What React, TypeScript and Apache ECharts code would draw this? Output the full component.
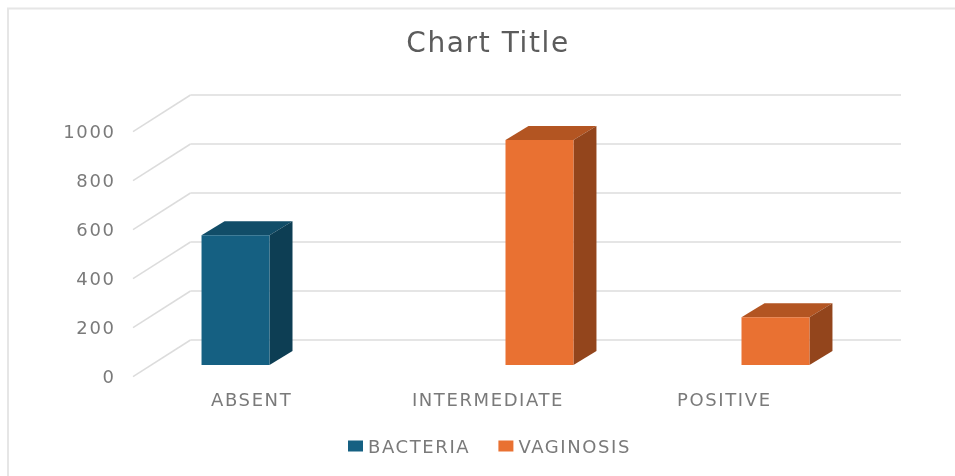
import React, { useEffect, useRef } from "react";
import * as echarts from "echarts";

const categories = ["ABSENT", "INTERMEDIATE", "POSITIVE"];
const bacteriaValues: (number | null)[] = [530, null, null];
const vaginosisValues: (number | null)[] = [null, 918, 195];
const ticks = [0, 200, 400, 600, 800, 1000];

const FONT = "'DejaVu Sans', sans-serif";
const AXIS_TEXT = "#7a7a7a";
const GRID_LINE = "#dcdcdc";

const yBase = { type: "value", min: 0, max: 1000, interval: 200 };

function barRenderer(side: number, front: string, top: string, right: string) {
  return (params: any, api: any) => {
    const v = api.value(1);
    if (v == null || isNaN(v)) return;
    const [cx, yt] = api.coord([api.value(0), v]);
    const [, yb] = api.coord([api.value(0), 0]);
    const w = api.size([1, 0])[0] * 0.288;
    const l = side < 0 ? cx - w : cx;
    const r = l + w;
    const dx = 23;
    const dy = 14;
    return {
      type: "group",
      children: [
        { type: "polygon", shape: { points: [[l, yt], [l + dx, yt - dy], [r + dx, yt - dy], [r, yt]] }, style: { fill: top } },
        { type: "polygon", shape: { points: [[r, yt], [r + dx, yt - dy], [r + dx, yb - dy], [r, yb]] }, style: { fill: right } },
        { type: "rect", shape: { x: l, y: yt, width: w, height: yb - yt }, style: { fill: front } },
      ],
    };
  };
}

function barSeries(name: string, values: (number | null)[], side: number, front: string, top: string, right: string) {
  return {
    name,
    type: "custom",
    xAxisIndex: 2,
    yAxisIndex: 2,
    z: 5,
    clip: false,
    itemStyle: { color: front },
    encode: { x: 0, y: 1 },
    data: values.map((v, i) => [i, v == null ? NaN : v]),
    renderItem: barRenderer(side, front, top, right),
  };
}

export default function App() {
  const ref = useRef<HTMLDivElement>(null);
  useEffect(() => {
    const chart = echarts.init(ref.current!, null, { renderer: "svg" });
    chart.setOption({
      animation: false,
      backgroundColor: "#ffffff",
      graphic: [
        {
          type: "rect",
          silent: true,
          z: 0,
          shape: { x: 8, y: 8.5, width: 1100, height: 600 },
          style: { fill: "none", stroke: "#e6e6e6", lineWidth: 2 },
        },
      ],
      title: {
        text: "Chart Title",
        left: 483,
        top: 23,
        textAlign: "center",
        textStyle: { fontFamily: FONT, fontSize: 28, fontWeight: "normal", color: "#5c5c5c" },
      },
      legend: {
        left: 348,
        top: 437,
        padding: 0,
        itemWidth: 15,
        itemHeight: 11,
        itemGap: 41,
        icon: "rect",
        textStyle: { fontFamily: FONT, fontSize: 18, color: AXIS_TEXT },
        data: ["BACTERIA", "VAGINOSIS"],
      },
      grid: [
        { left: 133.5, top: 131.7, width: 709, height: 245 },
        { left: 190.5, top: 95, width: 710.5, height: 245 },
        { left: 151.5, top: 120, width: 708, height: 245 },
      ],
      xAxis: [
        {
          type: "category",
          gridIndex: 0,
          data: categories,
          axisLine: { show: false },
          axisTick: { show: false },
          axisLabel: { color: AXIS_TEXT, fontFamily: FONT, fontSize: 18, margin: 14 },
        },
        { type: "category", gridIndex: 1, data: categories, show: false },
        { type: "category", gridIndex: 2, data: categories, show: false },
      ],
      yAxis: [
        {
          ...yBase,
          gridIndex: 0,
          axisLine: { show: false },
          axisTick: { show: false },
          splitLine: { show: false },
          axisLabel: { color: AXIS_TEXT, fontFamily: FONT, fontSize: 18, margin: 18, formatter: (v: number) => String(v) },
        },
        {
          ...yBase,
          gridIndex: 1,
          axisLine: { show: false },
          axisTick: { show: false },
          axisLabel: { show: false },
          splitLine: { show: true, lineStyle: { color: GRID_LINE, width: 1.5 } },
        },
        { ...yBase, gridIndex: 2, show: false },
      ],
      series: [
        {
          type: "custom",
          name: "wall",
          xAxisIndex: 1,
          yAxisIndex: 1,
          silent: true,
          clip: false,
          z: 1,
          encode: { y: 0 },
          data: ticks.map((t) => [t]),
          renderItem: (params: any, api: any) => {
            const y = api.coord([0, api.value(0)])[1];
            const x = params.coordSys.x;
            return {
              type: "line",
              shape: { x1: x, y1: y, x2: x - 57.5, y2: y + 36.7 },
              style: { stroke: GRID_LINE, lineWidth: 1.5 },
            };
          },
        },
        barSeries("BACTERIA", bacteriaValues, -1, "#156082", "#114d68", "#0d3e54"),
        barSeries("VAGINOSIS", vaginosisValues, 1, "#e97132", "#b35522", "#93451c"),
      ],
    });
    return () => chart.dispose();
  }, []);
  return (
    <div
      ref={ref}
      style={{ position: "fixed", left: 0, top: 0, width: 955, height: 476, letterSpacing: "1.6px", filter: "blur(0.5px)" }}
    />
  );
}
